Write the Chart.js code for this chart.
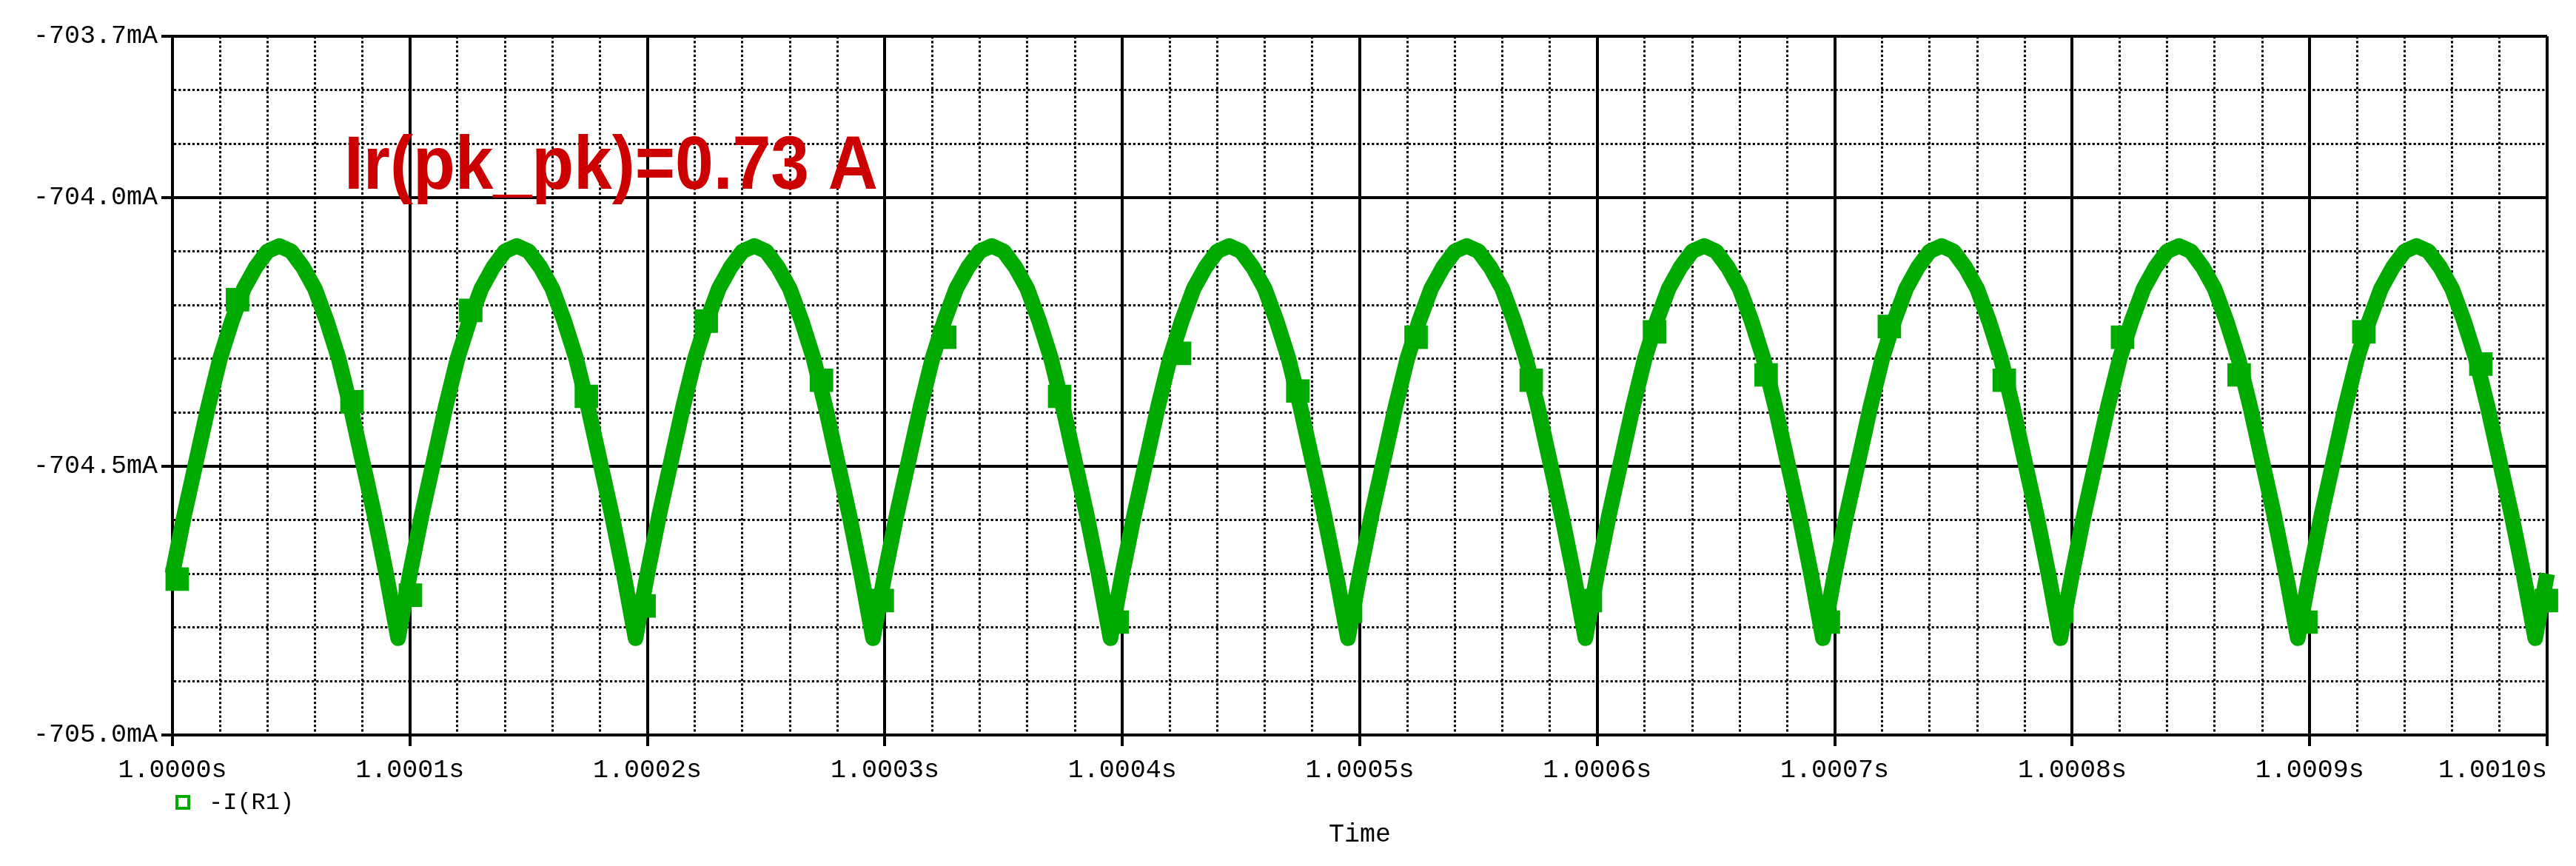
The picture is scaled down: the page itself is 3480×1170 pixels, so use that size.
<!DOCTYPE html>
<html>
<head>
<meta charset="utf-8">
<title>-I(R1) vs Time</title>
<script src="https://cdn.jsdelivr.net/npm/chart.js@4.4.1/dist/chart.umd.min.js"></script>
<style>
  html, body { margin: 0; padding: 0; background: #fff; }
  canvas { display: block; }
</style>
</head>
<body>
<canvas id="plot" width="3480" height="1170"></canvas>
<script>
// sample times in ms after t = 1 s
const timeMs = [
  0.000, 0.005, 0.010, 0.015, 0.020, 0.025, 0.030, 0.035, 0.040, 0.045, 0.050, 0.055, 0.060, 0.065, 0.070, 0.075, 0.080, 0.085, 0.090, 0.095,
  0.100, 0.105, 0.110, 0.115, 0.120, 0.125, 0.130, 0.135, 0.140, 0.145, 0.150, 0.155, 0.160, 0.165, 0.170, 0.175, 0.180, 0.185, 0.190, 0.195,
  0.200, 0.205, 0.210, 0.215, 0.220, 0.225, 0.230, 0.235, 0.240, 0.245, 0.250, 0.255, 0.260, 0.265, 0.270, 0.275, 0.280, 0.285, 0.290, 0.295,
  0.300, 0.305, 0.310, 0.315, 0.320, 0.325, 0.330, 0.335, 0.340, 0.345, 0.350, 0.355, 0.360, 0.365, 0.370, 0.375, 0.380, 0.385, 0.390, 0.395,
  0.400, 0.405, 0.410, 0.415, 0.420, 0.425, 0.430, 0.435, 0.440, 0.445, 0.450, 0.455, 0.460, 0.465, 0.470, 0.475, 0.480, 0.485, 0.490, 0.495,
  0.500, 0.505, 0.510, 0.515, 0.520, 0.525, 0.530, 0.535, 0.540, 0.545, 0.550, 0.555, 0.560, 0.565, 0.570, 0.575, 0.580, 0.585, 0.590, 0.595,
  0.600, 0.605, 0.610, 0.615, 0.620, 0.625, 0.630, 0.635, 0.640, 0.645, 0.650, 0.655, 0.660, 0.665, 0.670, 0.675, 0.680, 0.685, 0.690, 0.695,
  0.700, 0.705, 0.710, 0.715, 0.720, 0.725, 0.730, 0.735, 0.740, 0.745, 0.750, 0.755, 0.760, 0.765, 0.770, 0.775, 0.780, 0.785, 0.790, 0.795,
  0.800, 0.805, 0.810, 0.815, 0.820, 0.825, 0.830, 0.835, 0.840, 0.845, 0.850, 0.855, 0.860, 0.865, 0.870, 0.875, 0.880, 0.885, 0.890, 0.895,
  0.900, 0.905, 0.910, 0.915, 0.920, 0.925, 0.930, 0.935, 0.940, 0.945, 0.950, 0.955, 0.960, 0.965, 0.970, 0.975, 0.980, 0.985, 0.990, 0.995,
  1.000
];

// -I(R1) in mA
const currentMA = [
  -704.70, -704.59, -704.49, -704.39, -704.30, -704.23, -704.17, -704.13, -704.10, -704.09, -704.10, -704.13, -704.17, -704.23, -704.30, -704.39, -704.49, -704.59, -704.70, -704.82,
  -704.70, -704.59, -704.49, -704.39, -704.30, -704.23, -704.17, -704.13, -704.10, -704.09, -704.10, -704.13, -704.17, -704.23, -704.30, -704.39, -704.49, -704.59, -704.70, -704.82,
  -704.70, -704.59, -704.49, -704.39, -704.30, -704.23, -704.17, -704.13, -704.10, -704.09, -704.10, -704.13, -704.17, -704.23, -704.30, -704.39, -704.49, -704.59, -704.70, -704.82,
  -704.70, -704.59, -704.49, -704.39, -704.30, -704.23, -704.17, -704.13, -704.10, -704.09, -704.10, -704.13, -704.17, -704.23, -704.30, -704.39, -704.49, -704.59, -704.70, -704.82,
  -704.70, -704.59, -704.49, -704.39, -704.30, -704.23, -704.17, -704.13, -704.10, -704.09, -704.10, -704.13, -704.17, -704.23, -704.30, -704.39, -704.49, -704.59, -704.70, -704.82,
  -704.70, -704.59, -704.49, -704.39, -704.30, -704.23, -704.17, -704.13, -704.10, -704.09, -704.10, -704.13, -704.17, -704.23, -704.30, -704.39, -704.49, -704.59, -704.70, -704.82,
  -704.70, -704.59, -704.49, -704.39, -704.30, -704.23, -704.17, -704.13, -704.10, -704.09, -704.10, -704.13, -704.17, -704.23, -704.30, -704.39, -704.49, -704.59, -704.70, -704.82,
  -704.70, -704.59, -704.49, -704.39, -704.30, -704.23, -704.17, -704.13, -704.10, -704.09, -704.10, -704.13, -704.17, -704.23, -704.30, -704.39, -704.49, -704.59, -704.70, -704.82,
  -704.70, -704.59, -704.49, -704.39, -704.30, -704.23, -704.17, -704.13, -704.10, -704.09, -704.10, -704.13, -704.17, -704.23, -704.30, -704.39, -704.49, -704.59, -704.70, -704.82,
  -704.70, -704.59, -704.49, -704.39, -704.30, -704.23, -704.17, -704.13, -704.10, -704.09, -704.10, -704.13, -704.17, -704.23, -704.30, -704.39, -704.49, -704.59, -704.70, -704.82,
  -704.70
];

// trace markers (square symbols), as they sit on the picture
const markerTimeMs = [
  0.0020, 0.0274, 0.0756, 0.1002, 0.1256, 0.1743, 0.1986, 0.2248, 0.2733, 0.2989,
  0.3252, 0.3736, 0.3978, 0.4241, 0.4739, 0.4961, 0.5237, 0.5722, 0.5971, 0.6241,
  0.6711, 0.6973, 0.7230, 0.7714, 0.7956, 0.8212, 0.8703, 0.8984, 0.9228, 0.9721,
  0.9997
];
const markerCurrentMA = [
  -704.71, -704.19, -704.38, -704.74, -704.21, -704.37, -704.76, -704.23, -704.34, -704.75,
  -704.26, -704.37, -704.79, -704.29, -704.36, -704.77, -704.26, -704.34, -704.75, -704.25,
  -704.33, -704.79, -704.24, -704.34, -704.77, -704.26, -704.33, -704.79, -704.25, -704.31,
  -704.75
];

// axis ticks with labels (everything else is a dotted minor line)
const xMajorMs = [0, 0.1, 0.2, 0.3, 0.4, 0.5, 0.6, 0.7, 0.8, 0.9, 1.0];
const xTickLabels = ['1.0000s', '1.0001s', '1.0002s', '1.0003s', '1.0004s', '1.0005s',
                     '1.0006s', '1.0007s', '1.0008s', '1.0009s', '1.0010s'];
const yMajorMA = [-705.0, -704.5, -704.0, -703.7];
const yTickLabels = ['-705.0mA', '-704.5mA', '-704.0mA', '-703.7mA'];

const GREEN = 'rgb(0, 170, 0)';
const RED = 'rgb(204, 0, 0)';
const MONO = '"Liberation Mono", "DejaVu Sans Mono", monospace';

function majorIndex(list, v) {
  for (let i = 0; i < list.length; i++) {
    if (Math.abs(list[i] - v) < 1e-6) return i;
  }
  return -1;
}

function isMajor(list) {
  return function(ctx) {
    return ctx.tick ? majorIndex(list, ctx.tick.value) >= 0 : true;
  };
}

function gridFor(list) {
  const major = isMajor(list);
  return {
    grid: {
      color: '#000',
      lineWidth: ctx => major(ctx) ? 4 : 3,
      drawTicks: true,
      tickLength: 15,
      tickWidth: 4,
      tickColor: ctx => major(ctx) ? '#000' : 'rgba(0,0,0,0)'
    },
    border: {
      display: true,
      color: '#000',
      width: 4,
      dash: ctx => major(ctx) ? [] : [3.2, 3]
    }
  };
}

// no auto padding from the labels, fixed axis sizes
function fixBox(size, horizontal) {
  return function(scale) {
    if (horizontal) scale.height = size; else scale.width = size;
    scale.paddingLeft = scale.paddingRight = scale.paddingTop = scale.paddingBottom = 0;
  };
}

const notePlugin = {
  id: 'ppNote',
  afterDatasetsDraw(chart) {
    const { ctx, chartArea } = chart;
    const text = 'Ir(pk_pk)=0.73 A';
    ctx.save();
    ctx.font = 'bold 102px "Liberation Sans", Arial, sans-serif';
    ctx.fillStyle = RED;
    ctx.textBaseline = 'alphabetic';
    const w = ctx.measureText(text).width;
    ctx.translate(chartArea.left + 232, chartArea.top + 206);
    ctx.scale(721 / w, 1);
    ctx.fillText(text, 0, 0);
    ctx.restore();
  }
};

const legendPlugin = {
  id: 'traceLegend',
  afterDraw(chart) {
    const { ctx, chartArea } = chart;
    const x0 = chartArea.left + 4;
    const yc = chartArea.bottom + 91;
    ctx.save();
    ctx.strokeStyle = GREEN;
    ctx.lineWidth = 4;
    ctx.strokeRect(x0 + 2, yc - 8, 16, 16);
    ctx.font = '32px ' + MONO;
    ctx.fillStyle = '#000';
    ctx.textBaseline = 'middle';
    ctx.textAlign = 'left';
    ctx.fillText('-I(R1)', x0 + 45, yc + 1);
    ctx.restore();
  }
};

const xGrid = gridFor(xMajorMs);
const yGrid = gridFor(yMajorMA);

new Chart(document.getElementById('plot'), {
  type: 'line',
  data: {
    datasets: [{
      label: '-I(R1)',
      data: timeMs.map((t, i) => ({ x: t, y: currentMA[i] })),
      borderColor: GREEN,
      borderWidth: 21,
      borderJoinStyle: 'round',
      borderCapStyle: 'butt',
      pointRadius: 0,
      tension: 0,
      fill: false,
      clip: false,
      order: 2
    }, {
      label: 'markers',
      data: markerTimeMs.map((t, i) => ({ x: t, y: markerCurrentMA[i] })),
      showLine: false,
      pointStyle: 'rect',
      pointRadius: 21,
      pointBackgroundColor: GREEN,
      pointBorderColor: GREEN,
      pointBorderWidth: 2,
      clip: false,
      order: 1
    }]
  },
  options: {
    responsive: false,
    animation: false,
    devicePixelRatio: 1,
    layout: { padding: { left: 0, right: 39, top: 49, bottom: 0 } },
    plugins: {
      legend: { display: false },
      tooltip: { enabled: false }
    },
    scales: {
      x: {
        type: 'linear',
        position: 'bottom',
        min: 0,
        max: 1,
        afterFit: fixBox(177, true),
        ticks: {
          stepSize: 0.02,
          maxTicksLimit: 200,
          autoSkip: false,
          maxRotation: 0,
          minRotation: 0,
          padding: 12,
          color: '#000',
          font: { family: MONO, size: 35 },
          callback: function(v) {
            const j = majorIndex(xMajorMs, v);
            if (j < 0) return '';
            // the last label sits flush with the right edge of the plot
            return j === xMajorMs.length - 1 ? xTickLabels[j] + '       ' : xTickLabels[j];
          }
        },
        title: {
          display: true,
          text: 'Time',
          color: '#000',
          font: { family: MONO, size: 35 },
          padding: { top: 0, bottom: 21 }
        },
        grid: xGrid.grid,
        border: xGrid.border
      },
      y: {
        type: 'linear',
        position: 'left',
        min: -705.0,
        max: -703.7,
        afterFit: fixBox(233, false),
        ticks: {
          stepSize: 0.1,
          maxTicksLimit: 200,
          autoSkip: false,
          padding: 5,
          color: '#000',
          font: { family: MONO, size: 35 },
          callback: function(v) {
            const j = majorIndex(yMajorMA, v);
            return j < 0 ? '' : yTickLabels[j];
          }
        },
        grid: yGrid.grid,
        border: yGrid.border
      }
    }
  },
  plugins: [notePlugin, legendPlugin]
});
</script>
</body>
</html>
